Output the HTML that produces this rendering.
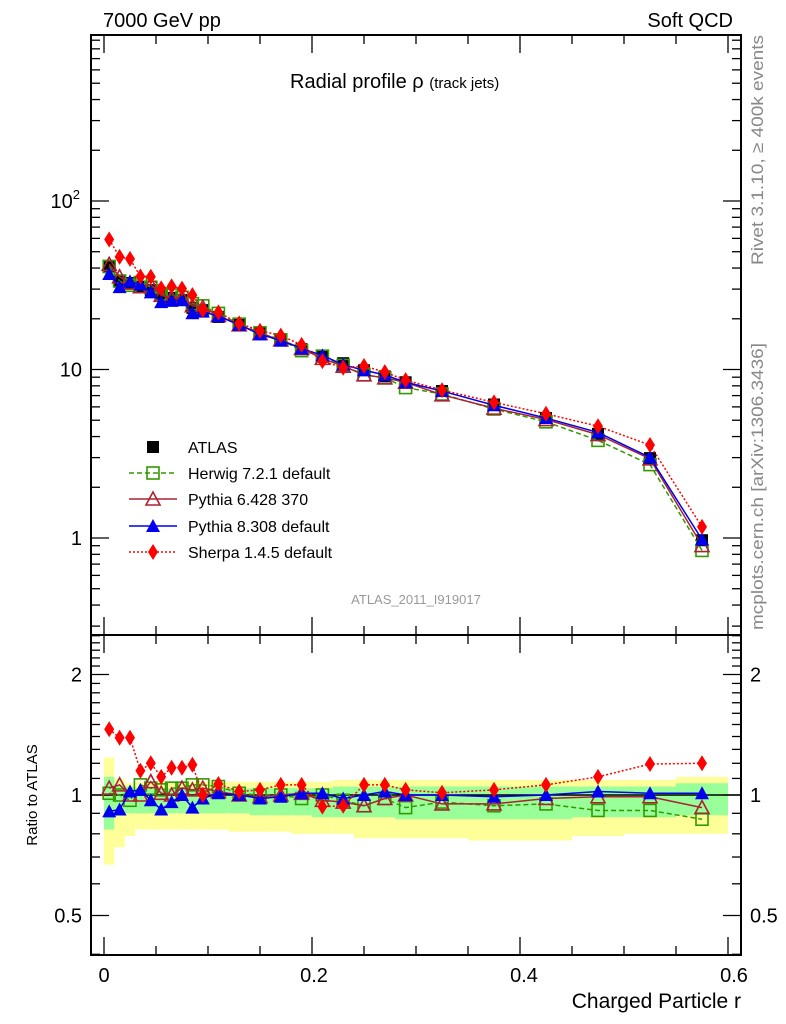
<!DOCTYPE html>
<html><head><meta charset="utf-8"><style>
body{margin:0;background:#fff;}
svg{display:block;font-family:"Liberation Sans",Arial,sans-serif;}
</style></head><body>
<svg id="chart" width="786" height="1024" viewBox="0 0 786 1024">
<g id="bands"></g>
<g id="axes"></g>
<g id="series"></g>
<text x="103" y="27" font-size="20">7000 GeV pp</text>
<text x="733" y="27" font-size="20" text-anchor="end">Soft QCD</text>
<text x="290" y="88" font-size="20">Radial profile ρ <tspan font-size="15">(track jets)</tspan></text>
<text x="416" y="604" font-size="13" fill="#999" text-anchor="middle">ATLAS_2011_I919017</text>
<text transform="translate(763,265) rotate(-90)" font-size="17" fill="#888" textLength="230" lengthAdjust="spacingAndGlyphs">Rivet 3.1.10, ≥ 400k events</text>
<text transform="translate(763,630) rotate(-90)" font-size="17" fill="#888" textLength="287" lengthAdjust="spacingAndGlyphs">mcplots.cern.ch [arXiv:1306.3436]</text>
<text transform="translate(37,795) rotate(-90)" font-size="15" text-anchor="middle">Ratio to ATLAS</text>
<text x="741" y="1008" font-size="21" text-anchor="end">Charged Particle r</text>
<g id="legend"></g>
</svg>
<script>
const xCenters=[0.005,0.015,0.025,0.035,0.045,0.055,0.065,0.075,0.085,0.095,0.11,0.13,0.15,0.17,0.19,0.21,0.23,0.25,0.27,0.29,0.325,0.375,0.425,0.475,0.525,0.575];
const binLo=[0,0.01,0.02,0.03,0.04,0.05,0.06,0.07,0.08,0.09,0.1,0.12,0.14,0.16,0.18,0.2,0.22,0.24,0.26,0.28,0.3,0.35,0.4,0.45,0.5,0.55];
const binHi=[0.01,0.02,0.03,0.04,0.05,0.06,0.07,0.08,0.09,0.1,0.12,0.14,0.16,0.18,0.2,0.22,0.24,0.26,0.28,0.3,0.35,0.4,0.45,0.5,0.55,0.6];
const atlas=[40.5,33.5,32.6,31,29.6,27.3,26.6,25.8,23.2,22.5,20.5,18.4,16.5,15,13.2,12,10.9,9.9,9.1,8.4,7.45,6.2,5.15,4.15,2.98,0.97];
const yellowHi=[1.24,1.1,1.07,1.08,1.08,1.08,1.08,1.08,1.08,1.08,1.08,1.08,1.08,1.08,1.08,1.08,1.09,1.09,1.09,1.09,1.09,1.09,1.09,1.09,1.09,1.11];
const yellowLo=[0.67,0.74,0.79,0.82,0.82,0.82,0.82,0.82,0.82,0.82,0.82,0.81,0.81,0.81,0.8,0.8,0.8,0.78,0.78,0.78,0.78,0.77,0.77,0.79,0.8,0.8];
const greenHi=[1.11,1.06,1.05,1.04,1.04,1.04,1.04,1.04,1.04,1.04,1.04,1.04,1.04,1.04,1.04,1.04,1.05,1.05,1.05,1.05,1.05,1.05,1.05,1.05,1.05,1.07];
const greenLo=[0.82,0.89,0.9,0.9,0.9,0.9,0.9,0.9,0.9,0.9,0.9,0.9,0.89,0.89,0.89,0.88,0.88,0.88,0.88,0.87,0.87,0.87,0.87,0.88,0.88,0.89];
const herwigR=[1.01,1.0,0.97,1.06,1.04,1.03,1.04,1.04,1.06,1.06,1.05,1.01,1.0,1.0,0.98,1.0,0.97,0.94,0.98,0.93,0.96,0.94,0.95,0.915,0.915,0.87];
const py6R=[1.04,1.06,1.0,1.0,1.08,1.01,1.0,1.04,1.03,1.04,1.02,1.0,0.99,1.0,1.01,0.97,0.96,0.94,0.98,1.0,0.95,0.95,0.98,0.99,0.99,0.93];
const py8R=[0.91,0.92,1.02,1.03,0.97,0.92,0.96,1.0,0.93,0.98,1.01,1.0,0.98,0.99,1.01,1.01,0.98,1.0,1.02,1.0,1.0,0.99,1.0,1.02,1.01,1.01];
const sherpaR=[1.46,1.39,1.39,1.15,1.2,1.11,1.17,1.17,1.19,1.0,1.065,1.02,1.03,1.06,1.06,0.935,0.94,1.06,1.06,1.03,1.013,1.03,1.06,1.11,1.195,1.2];
const mainTicks=["1","10","10²"];
const ratioTicks=["0.5","1","2"];
const xTicks=["0","0.2","0.4","0.6"];

const NS="http://www.w3.org/2000/svg";
const L=91,R=741,T=35,MB=635,B=955;
const X=v=>104+v*1040;
const YM=v=>538-168.5*Math.log10(v);
const YR=v=>795-120.5*Math.log2(v);
function mk(tag,attrs,parent){const e=document.createElementNS(NS,tag);for(const k in attrs)e.setAttribute(k,attrs[k]);parent.appendChild(e);return e;}
const gA=document.getElementById('axes'),gS=document.getElementById('series'),gB=document.getElementById('bands'),gL=document.getElementById('legend');

binLo.forEach((lo,i)=>{
 let r=mk('rect',{x:X(lo),y:YR(yellowHi[i]),width:X(binHi[i])-X(lo),height:YR(yellowLo[i])-YR(yellowHi[i]),fill:'#ffff99'},gB);
 
 
 let g=mk('rect',{x:X(lo),y:YR(greenHi[i]),width:X(binHi[i])-X(lo),height:YR(greenLo[i])-YR(greenHi[i]),fill:'#99ff99'},gB);
 
 
});
mk('line',{x1:L,x2:R,y1:YR(1),y2:YR(1),stroke:'#000','stroke-width':1.5},gB);

mk('rect',{x:L,y:T,width:R-L,height:MB-T,fill:'none',stroke:'#000','stroke-width':2},gA);
mk('rect',{x:L,y:MB,width:R-L,height:B-MB,fill:'none',stroke:'#000','stroke-width':2},gA);
for(let d=-1;d<3;d++)for(let m=1;m<10;m++){const v=m*Math.pow(10,d);const y=YM(v);if(y<T||y>MB)continue;const len=m==1?18:9;
 mk('line',{x1:L,x2:L+len,y1:y,y2:y,stroke:'#000','stroke-width':1.3},gA);mk('line',{x1:R,x2:R-len,y1:y,y2:y,stroke:'#000','stroke-width':1.3},gA);}
[1,10,100].forEach((v,i)=>{const t=mk('text',{x:i==2?80:82,y:YM(v)+7,'font-size':20,'text-anchor':'end'},gA);
 
 
 if(i==2){t.textContent='10';mk('tspan',{dy:-9,'font-size':13},t).textContent='2';}else t.textContent=mainTicks[i];});
[0.4,0.5,0.6,0.7,0.8,0.9,1,1.1,1.2,1.3,1.4,1.5,1.6,1.7,1.8,1.9,2,2.1,2.2,2.3,2.4,2.5].forEach(v=>{const y=YR(v);if(y<MB||y>B)return;const len=(v==0.5||v==1||v==2)?18:9;
 mk('line',{x1:L,x2:L+len,y1:y,y2:y,stroke:'#000','stroke-width':1.3},gA);mk('line',{x1:R,x2:R-len,y1:y,y2:y,stroke:'#000','stroke-width':1.3},gA);});
[0.5,1,2].forEach((v,i)=>{[[82,'end'],[750,'start']].forEach(([x,a])=>{const t=mk('text',{x:x,y:YR(v)+7,'font-size':20,'text-anchor':a},gA);
 
 
 t.textContent=ratioTicks[i];});});
for(let k=0;k<=12;k++){const v=k*0.05;const x=X(v);if(x>R)continue;const len=k%4==0?18:9;
 [[T,1],[MB,1],[MB,-1],[B,-1]].forEach(([y,s])=>mk('line',{x1:x,x2:x,y1:y,y2:y+s*len,stroke:'#000','stroke-width':1.3},gA));}
[0,0.2,0.4,0.6].forEach((v,i)=>{const t=mk('text',{x:X(v)+(i*2),y:982,'font-size':20,'text-anchor':'middle'},gA);
 
 
 t.textContent=xTicks[i];});

function marker(type,x,y,col,par){
 if(type=='sq')return mk('rect',{x:x-6,y:y-6,width:12,height:12,fill:'#000'},par);
 if(type=='osq')return mk('rect',{x:x-6,y:y-6,width:12,height:12,fill:'none',stroke:col,'stroke-width':1.6},par);
 if(type=='otri')return mk('polygon',{points:`${x},${y-7} ${x-7},${y+6} ${x+7},${y+6}`,fill:'none',stroke:col,'stroke-width':1.6},par);
 if(type=='tri')return mk('polygon',{points:`${x},${y-7} ${x-7},${y+6} ${x+7},${y+6}`,fill:col},par);
 return mk('polygon',{points:`${x},${y-8} ${x+5},${y} ${x},${y+8} ${x-5},${y}`,fill:col},par);
}
const series=[
 {name:'herwig',label:'Herwig 7.2.1 default',r:herwigR,col:'#339900',m:'osq',dash:'5,3'},
 {name:'pythia6',label:'Pythia 6.428 370',r:py6R,col:'#aa2233',m:'otri',dash:''},
 {name:'pythia8',label:'Pythia 8.308 default',r:py8R,col:'#0000ee',m:'tri',dash:''},
 {name:'sherpa',label:'Sherpa 1.4.5 default',r:sherpaR,col:'#ff0000',m:'dia',dash:'2,2'}];
atlas.forEach((v,i)=>{const m=marker('sq',X(xCenters[i]),YM(v),'#000',gS);
 
 });
series.forEach(s=>{
 const g=mk('g',{},gS);
 
 
 const pm=xCenters.map((x,i)=>X(x)+','+YM(atlas[i]*s.r[i])).join(' ');
 const pr=xCenters.map((x,i)=>X(x)+','+YR(s.r[i])).join(' ');
 const l1=mk('polyline',{points:pm,fill:'none',stroke:s.col,'stroke-width':1.5,'stroke-dasharray':s.dash},g);
 
 
 const l2=mk('polyline',{points:pr,fill:'none',stroke:s.col,'stroke-width':1.5,'stroke-dasharray':s.dash},g);
 
 
 xCenters.forEach((x,i)=>{
  const a=marker(s.m,X(x),YM(atlas[i]*s.r[i]),s.col,g);
  
  
  const b=marker(s.m,X(x),YR(s.r[i]),s.col,g);
  
  
 });
});
const ly=[447,473,499,526,552];
const la=marker('sq',153,ly[0],'#000',gL);


const lt=mk('text',{x:188,y:ly[0]+6,'font-size':16},gL);lt.textContent='ATLAS';


series.forEach((s,i)=>{const y=ly[i+1];
 mk('line',{x1:129,x2:177,y1:y,y2:y,stroke:s.col,'stroke-width':1.5,'stroke-dasharray':s.dash},gL);
 marker(s.m,153,y,s.col,gL);
 const t=mk('text',{x:188,y:y+6,'font-size':16},gL);t.textContent=s.label;
 
 
});
</script>
</body></html>
